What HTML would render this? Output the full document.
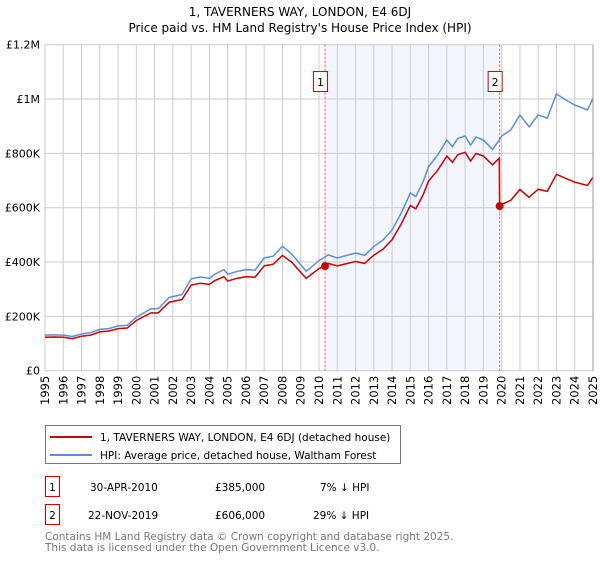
<!DOCTYPE html>
<html><head><meta charset="utf-8"><style>
body{margin:0;background:#fff;font-family:"Liberation Sans","DejaVu Sans",sans-serif}
svg text{font-family:"DejaVu Sans","Liberation Sans",sans-serif}
</style></head><body>
<svg id="c" width="600" height="560" viewBox="0 0 600 560" xmlns="http://www.w3.org/2000/svg">
<text x="300" y="16" text-anchor="middle" font-size="12" fill="#000">1, TAVERNERS WAY, LONDON, E4 6DJ</text>
<text x="300" y="32" text-anchor="middle" font-size="12" fill="#000">Price paid vs. HM Land Registry's House Price Index (HPI)</text>
<g id="grid"></g>
<g id="series"></g>
<g id="axes"></g>
<g>
<rect x="45.5" y="425.5" width="355" height="38" fill="#fff" stroke="#777"/>
<line x1="50" y1="437" x2="92" y2="437" stroke="#cc0000" stroke-width="2"/>
<text x="100" y="441" font-size="10.5">1, TAVERNERS WAY, LONDON, E4 6DJ (detached house)</text>
<line x1="50" y1="455" x2="92" y2="455" stroke="#5b8fd6" stroke-width="2"/>
<text x="100" y="459" font-size="10.5">HPI: Average price, detached house, Waltham Forest</text>
</g>
<g>
<rect x="45.5" y="476.5" width="14" height="20" fill="#fff" stroke="#cc0000"/>
<text x="52.5" y="491" text-anchor="middle" font-size="10.5">1</text>
<text x="90" y="491" font-size="10.5">30-APR-2010</text>
<text x="215" y="491" font-size="10.5">£385,000</text>
<text x="320" y="491" font-size="10.5">7% ↓ HPI</text>
<rect x="45.5" y="504.5" width="14" height="20" fill="#fff" stroke="#cc0000"/>
<text x="52.5" y="519" text-anchor="middle" font-size="10.5">2</text>
<text x="88" y="519" font-size="10.5">22-NOV-2019</text>
<text x="215" y="519" font-size="10.5">£606,000</text>
<text x="313" y="519" font-size="10.5">29% ↓ HPI</text>
</g>
<text x="45" y="540" font-size="10.5" fill="#777">Contains HM Land Registry data © Crown copyright and database right 2025.</text>
<text x="45" y="551" font-size="10.5" fill="#777">This data is licensed under the Open Government Licence v3.0.</text>
</svg>
<script>
const years=[1995,1995.5,1996,1996.5,1997,1997.5,1998,1998.5,1999,1999.5,2000,2000.8,2001.2,2001.8,2002.5,2003,2003.5,2004,2004.3,2004.8,2005,2005.5,2006,2006.5,2007,2007.5,2008,2008.5,2009,2009.3,2010,2010.5,2011,2012,2012.5,2013,2013.5,2014,2014.5,2015,2015.3,2015.7,2016,2016.5,2017,2017.3,2017.6,2018,2018.3,2018.6,2019,2019.5,2019.88,2020,2020.5,2021,2021.5,2022,2022.5,2023,2023.5,2024,2024.7,2025];
const hpi=[131,132,131,126,135,140,152,155,165,167,197,228,228,270,280,338,345,340,355,372,355,365,372,370,415,422,458,430,390,366,405,426,415,433,425,457,481,518,580,654,641,696,751,794,849,825,855,864,830,860,849,815,850,864,886,941,898,941,930,1019,997,978,960,1003];
const redYears=[1995,1995.5,1996,1996.5,1997,1997.5,1998,1998.5,1999,1999.5,2000,2000.8,2001.2,2001.8,2002.5,2003,2003.5,2004,2004.3,2004.8,2005,2005.5,2006,2006.5,2007,2007.5,2008,2008.5,2009,2009.3,2010,2010.33,2010.5,2011,2012,2012.5,2013,2013.5,2014,2014.5,2015,2015.3,2015.7,2016,2016.5,2017,2017.3,2017.6,2018,2018.3,2018.6,2019,2019.5,2019.87,2019.89,2020,2020.5,2021,2021.5,2022,2022.5,2023,2023.5,2024,2024.7,2025];
const red=[123,124,123,118,127,131,143,146,155,157,185,213,213,252,262,315,322,318,332,346,330,340,346,344,386,392,424,400,362,340,376,385,395,386,402,395,425,447,482,540,608,596,647,698,738,790,767,795,804,772,800,790,758,782,606,612,627,667,638,668,660,723,708,694,682,712];
const yTicks=[0,200,400,600,800,1000,1200];
const yLabels=["£0","£200K","£400K","£600K","£800K","£1M","£1.2M"];
const sales=[{t:2010.33,v:385,n:"1"},{t:2019.89,v:606,n:"2"}];
const X0=45,X1=593,Y0=370.7,Y1=44.7;
const x=t=>X0+(t-1995)/30*(X1-X0);
const y=v=>Y0-v/1200*(Y0-Y1);
const NS="http://www.w3.org/2000/svg";
function mk(tag,attrs,parent){const e=document.createElementNS(NS,tag);for(const k in attrs)e.setAttribute(k,attrs[k]);parent.appendChild(e);return e;}
const grid=document.getElementById('grid'),ser=document.getElementById('series'),ax=document.getElementById('axes');
let sh=mk('rect',{x:x(sales[0].t),y:Y1,width:x(sales[1].t)-x(sales[0].t),height:Y0-Y1,fill:'#f3f6fe'},grid);


for(let yr=1995;yr<=2025;yr++){
 let l=mk('line',{x1:x(yr),x2:x(yr),y1:Y1,y2:Y0,stroke:'#ccc','stroke-width':1},grid);
 
 
 let t=mk('text',{x:0,y:0,'font-size':11.5,'text-anchor':'end',transform:`translate(${x(yr)+4},${Y0+5}) rotate(-90)`},ax);
 t.textContent=yr;
 
 
}
yTicks.forEach((v,i)=>{
 let l=mk('line',{x1:X0,x2:X1,y1:y(v),y2:y(v),stroke:'#ccc','stroke-width':1},grid);
 
 
 let t=mk('text',{x:X0-5,y:y(v)+4,'font-size':11,'text-anchor':'end'},ax);
 t.textContent=yLabels[i];
 
 
});
sales.forEach(s=>{
 let l=mk('line',{x1:x(s.t),x2:x(s.t),y1:Y1,y2:Y0,stroke:'#ee5555','stroke-width':1,'stroke-dasharray':'2,2'},grid);
 
 
 let b=mk('rect',{x:x(s.t)-11.5,y:71.5,width:14,height:20,fill:'#fff',stroke:'#cc0000'},ax);
 
 
 let t=mk('text',{x:x(s.t)-4.5,y:86,'font-size':11,'text-anchor':'middle'},ax);
 t.textContent=s.n;
 
 
});
let hp=mk('polyline',{points:years.map((t,i)=>x(t)+','+y(hpi[i])).join(' '),fill:'none',stroke:'#5b8fd6','stroke-width':1.5},ser);


let rp=mk('polyline',{points:redYears.map((t,i)=>x(t)+','+y(red[i])).join(' '),fill:'none',stroke:'#cc0000','stroke-width':1.5},ser);


sales.forEach(s=>{
 let c=mk('circle',{cx:x(s.t),cy:y(s.v),r:4,fill:'#cc0000'},ser);
 
 
});
let rb=mk('line',{x1:X1,x2:X1,y1:Y1,y2:Y0,stroke:'#999','stroke-width':1},ax);


</script>
</body></html>
